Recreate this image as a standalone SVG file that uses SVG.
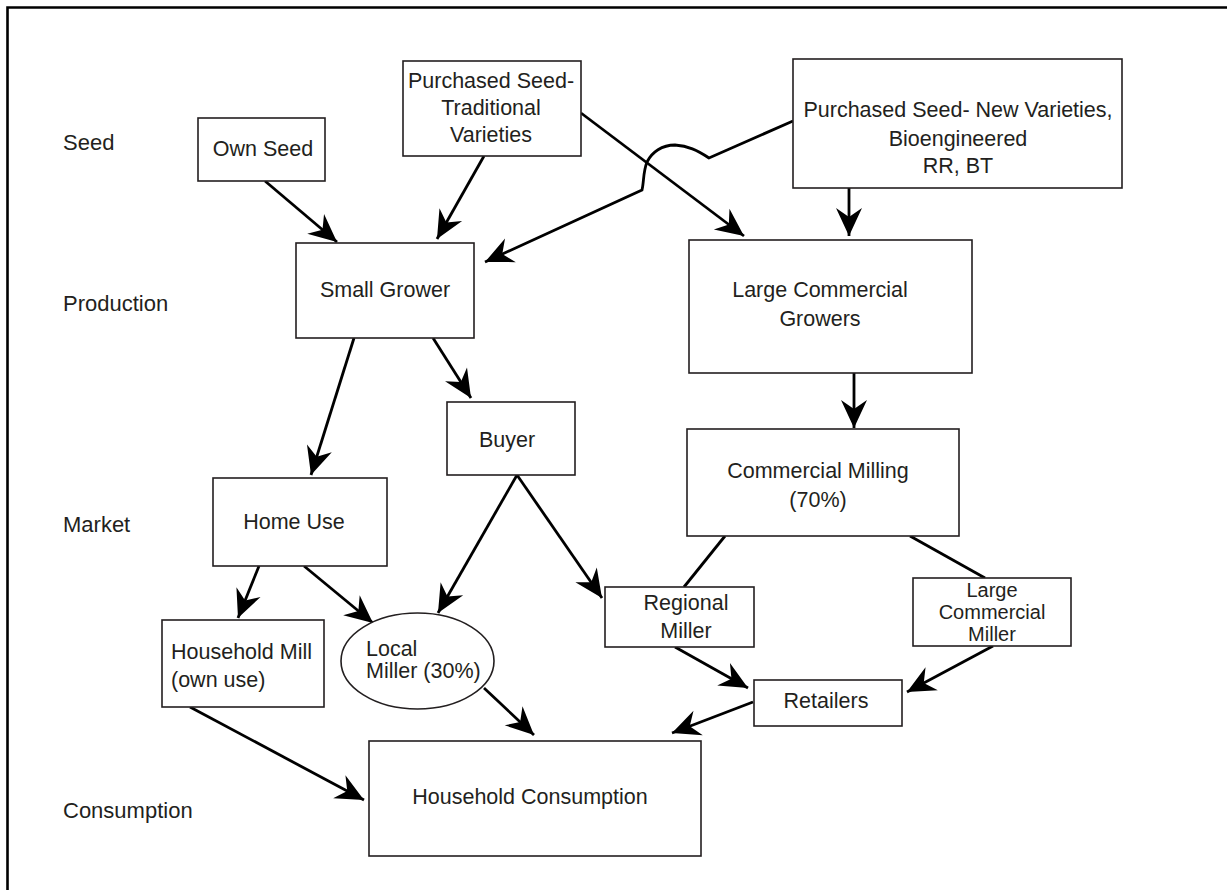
<svg xmlns="http://www.w3.org/2000/svg" width="1227" height="890" viewBox="0 0 1227 890">
<style>
  text { font-family: "Liberation Sans", Arial, sans-serif; font-size: 21.5px; fill: #231f20; }
  .lbl { font-size: 22px; }
  .sm { font-size: 20px; }
  .c { text-anchor: middle; }
  .box { fill: #fff; stroke: #231f20; stroke-width: 1.6; }
  .ln { fill: none; stroke: #000; stroke-width: 2.8; }
  .ar { marker-end: url(#ah); }
</style>
<defs>
  <marker id="ah" markerUnits="userSpaceOnUse" markerWidth="34" markerHeight="34" viewBox="-30 -15 34 30" refX="0" refY="0" orient="auto">
    <path d="M0,0 L-28,-13 L-19,0 L-28,13 Z" fill="#000"/>
  </marker>
</defs>
<rect width="1227" height="890" fill="#fff"/>
<path d="M7.5,890 L7.5,7.5 L1227,7.5" fill="none" stroke="#000" stroke-width="2.6"/>

<g id="tier-labels">
  <text class="lbl" x="63" y="150">Seed</text>
  <text class="lbl" x="63" y="311">Production</text>
  <text class="lbl" x="63" y="532">Market</text>
  <text class="lbl" x="63" y="818">Consumption</text>
</g>

<g id="connectors">
  <line class="ln ar" x1="265" y1="181" x2="337" y2="242"/>
  <line class="ln ar" x1="484" y1="156" x2="437" y2="239"/>
  <line class="ln ar" x1="581" y1="113" x2="744" y2="236"/>
  <path class="ln ar" d="M793,121 L709,158 C697,150 688,146 675,145 C662,145 652,152 647,162 C643,172 644,182 642,190 L485,262"/>
  <line class="ln ar" x1="849" y1="188" x2="849" y2="236"/>
  <line class="ln ar" x1="354" y1="338" x2="311" y2="475"/>
  <line class="ln ar" x1="433" y1="338" x2="471" y2="398"/>
  <line class="ln ar" x1="854" y1="373" x2="854" y2="428"/>
  <line class="ln ar" x1="517" y1="475" x2="438" y2="613"/>
  <line class="ln ar" x1="517" y1="475" x2="602" y2="598"/>
  <line class="ln ar" x1="259" y1="566" x2="238" y2="618"/>
  <line class="ln ar" x1="304" y1="566" x2="373" y2="623"/>
  <line class="ln ar" x1="484" y1="688" x2="534" y2="735"/>
  <line class="ln ar" x1="190" y1="707" x2="364" y2="800"/>
  <line class="ln" x1="725" y1="536" x2="684" y2="587"/>
  <line class="ln" x1="910" y1="536" x2="985" y2="578"/>
  <line class="ln ar" x1="675" y1="647" x2="748" y2="688"/>
  <line class="ln ar" x1="993" y1="646" x2="907" y2="692"/>
  <line class="ln ar" x1="753" y1="702" x2="672" y2="733"/>
</g>

<g id="own-seed">
  <rect class="box" x="198" y="118" width="127" height="63"/>
  <text class="c" x="263" y="156">Own Seed</text>
</g>
<g id="purchased-traditional">
  <rect class="box" x="403" y="61" width="178" height="95"/>
  <text class="c" x="491" y="88">Purchased Seed-</text>
  <text class="c" x="491" y="115">Traditional</text>
  <text class="c" x="491" y="142">Varieties</text>
</g>
<g id="purchased-new">
  <rect class="box" x="793" y="59" width="329" height="129"/>
  <text class="c" x="958" y="117">Purchased Seed- New Varieties,</text>
  <text class="c" x="958" y="146">Bioengineered</text>
  <text class="c" x="958" y="173">RR, BT</text>
</g>
<g id="small-grower">
  <rect class="box" x="296" y="243" width="178" height="95"/>
  <text class="c" x="385" y="297">Small Grower</text>
</g>
<g id="large-commercial-growers">
  <rect class="box" x="689" y="240" width="283" height="133"/>
  <text class="c" x="820" y="297">Large Commercial</text>
  <text class="c" x="820" y="326">Growers</text>
</g>
<g id="buyer">
  <rect class="box" x="447" y="402" width="128" height="73"/>
  <text class="c" x="507" y="447">Buyer</text>
</g>
<g id="commercial-milling">
  <rect class="box" x="687" y="429" width="272" height="107"/>
  <text class="c" x="818" y="478">Commercial Milling</text>
  <text class="c" x="818" y="507">(70%)</text>
</g>
<g id="home-use">
  <rect class="box" x="213" y="478" width="174" height="88"/>
  <text class="c" x="294" y="529">Home Use</text>
</g>
<g id="household-mill">
  <rect class="box" x="162" y="620" width="162" height="87"/>
  <text x="171" y="659">Household Mill</text>
  <text x="171" y="687">(own use)</text>
</g>
<g id="local-miller">
  <ellipse class="box" cx="417.5" cy="661" rx="76.5" ry="48"/>
  <text x="366" y="656">Local</text>
  <text x="366" y="678">Miller (30%)</text>
</g>
<g id="regional-miller">
  <rect class="box" x="605" y="587" width="149" height="60"/>
  <text class="c" x="686" y="610">Regional</text>
  <text class="c" x="686" y="638">Miller</text>
</g>
<g id="large-commercial-miller">
  <rect class="box" x="913" y="578" width="158" height="68"/>
  <text class="c sm" x="992" y="597">Large</text>
  <text class="c sm" x="992" y="619">Commercial</text>
  <text class="c sm" x="992" y="641">Miller</text>
</g>
<g id="retailers">
  <rect class="box" x="754" y="680" width="148" height="46"/>
  <text class="c" x="826" y="708">Retailers</text>
</g>
<g id="household-consumption">
  <rect class="box" x="369" y="741" width="332" height="115"/>
  <text class="c" x="530" y="804">Household Consumption</text>
</g>
</svg>
